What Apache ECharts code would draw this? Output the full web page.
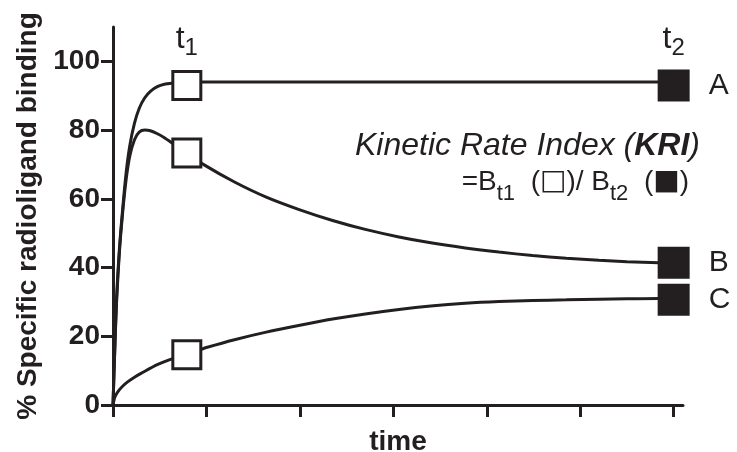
<!DOCTYPE html>
<html>
<head>
<meta charset="utf-8">
<script src="https://cdn.jsdelivr.net/npm/echarts@6/dist/echarts.min.js"></script>
<style>
  html, body { margin: 0; padding: 0; background: #fff; }
  #main { width: 737px; height: 452px; }
</style>
</head>
<body>
<div id="main"></div>
<script>
// curves: [time, % specific binding]
var curveA = [
  [0, 0], [0.02, 17], [0.04, 32], [0.07, 46], [0.1, 56], [0.14, 67.5], [0.18, 75.5],
  [0.23, 82], [0.28, 86.3], [0.34, 89.4], [0.4, 91.3], [0.48, 92.7], [0.56, 93.4],
  [0.67, 93.8], [0.79, 94], [2, 94], [4, 94], [6, 94]
];
var curveB = [
  [0, 0], [0.02, 17], [0.04, 31], [0.07, 45], [0.1, 55], [0.14, 65.5], [0.18, 72.5],
  [0.23, 77.2], [0.28, 79.4], [0.34, 80], [0.4, 79.8], [0.47, 79], [0.55, 77.8],
  [0.65, 75.9], [0.79, 73.3], [0.98, 69.8], [1.3, 64.9], [1.64, 60.5], [2.0, 56.8],
  [2.35, 53.7], [2.7, 51.1], [3.06, 48.9], [3.4, 47.2], [3.77, 45.7], [4.13, 44.5],
  [4.49, 43.5], [4.85, 42.7], [5.2, 42.1], [5.5, 41.7], [5.84, 41.4], [6, 41.3]
];
var curveC = [
  [0, 0], [0.02, 2.3], [0.053, 3.9], [0.1, 5.4], [0.16, 6.8], [0.23, 8.1], [0.3, 9.2],
  [0.48, 11.8], [0.66, 13.7], [0.84, 15.3], [1.01, 16.8], [1.3, 19.0], [1.64, 21.2],
  [2.0, 23.2], [2.35, 25.0], [2.7, 26.5], [3.06, 27.8], [3.4, 28.8], [3.77, 29.6],
  [4.13, 30.1], [4.49, 30.4], [4.85, 30.6], [5.2, 30.8], [5.5, 30.9], [5.84, 31.0], [6, 31.0]
];
var t1Points = [[0.79, 93], [0.79, 73.3], [0.79, 14.6]];
var t2Points = [[6, 93], [6, 41.4], [6, 30.6]];
var curveNames = ['A', 'B', 'C'];
var xTicks = [0, 1, 2, 3, 4, 5, 6];
var yTicks = [0, 20, 40, 60, 80, 100];

var ink = '#231f20';
var font = 'Arial, "Liberation Sans", Helvetica, sans-serif';

var myChart = echarts.init(document.getElementById('main'));

function curve(name, data) {
  return {
    name: name,
    type: 'line',
    data: data,
    showSymbol: false,
    smooth: 0.3,
    lineStyle: { color: ink, width: 3 },
    z: 2,
    silent: true
  };
}

// t with a subscript, used above the t1 / t2 columns
// (tall line + bottom aligned subscript pushes the subscript down)
var tRich = {
  t: { fontFamily: font, fontSize: 32, color: ink, lineHeight: 42 },
  s: { fontFamily: font, fontSize: 24, color: ink, lineHeight: 14, verticalAlign: 'bottom' }
};

var option = {
  backgroundColor: '#fff',
  animation: false,
  grid: { left: 113, right: 54, top: 27, bottom: 47, outerBoundsMode: 'none' },
  xAxis: {
    type: 'value',
    min: 0,
    max: 6.1,
    name: 'time',
    nameLocation: 'middle',
    nameGap: 23,
    nameTextStyle: { color: ink, fontFamily: font, fontWeight: 'bold', fontSize: 28 },
    splitLine: { show: false },
    axisLine: { lineStyle: { color: ink, width: 3 } },
    axisTick: { length: 12, lineStyle: { color: ink, width: 3 }, customValues: xTicks },
    axisLabel: { show: false }
  },
  yAxis: {
    type: 'value',
    min: 0,
    max: 110,
    name: '% Specific radioligand binding',
    nameLocation: 'middle',
    nameGap: 70,
    nameTextStyle: { color: ink, fontFamily: font, fontWeight: 'bold', fontSize: 28 },
    splitLine: { show: false },
    axisLine: { show: true, lineStyle: { color: ink, width: 3 } },
    axisTick: { show: true, length: 12, lineStyle: { color: ink, width: 3 }, customValues: yTicks },
    axisLabel: {
      customValues: yTicks,
      margin: 13,
      color: ink,
      fontFamily: font,
      fontWeight: 'bold',
      fontSize: 28
    }
  },
  series: [
    curve(curveNames[0], curveA),
    curve(curveNames[1], curveB),
    curve(curveNames[2], curveC),
    {
      name: 't1',
      type: 'scatter',
      data: t1Points,
      symbol: 'rect',
      symbolSize: 28,
      itemStyle: { color: '#fff', borderColor: ink, borderWidth: 3, opacity: 1 },
      z: 5,
      label: {
        show: true,
        position: 'top',
        distance: 10,
        formatter: function (p) { return p.dataIndex === 0 ? '{t|t}{s|1}' : ''; },
        rich: tRich
      }
    },
    {
      name: 't2',
      type: 'scatter',
      data: t2Points,
      symbol: 'rect',
      symbolSize: 32,
      itemStyle: { color: ink, opacity: 1 },
      z: 5,
      label: {
        show: true,
        position: 'right',
        distance: 19,
        color: ink,
        fontFamily: font,
        fontSize: 30,
        formatter: function (p) { return curveNames[p.dataIndex]; }
      },
      markPoint: {
        symbol: 'rect',
        symbolSize: 30,
        itemStyle: { color: 'transparent' },
        data: [{ coord: t2Points[0] }],
        label: {
          show: true,
          position: 'top',
          distance: 10,
          formatter: '{t|t}{s|2}',
          rich: tRich
        }
      }
    }
  ],
  graphic: [
    {
      type: 'text',
      right: 37,
      top: 130,
      style: {
        text: '{i|Kinetic Rate Index (}{b|KRI}{i|)}',
        rich: {
          i: { fontFamily: font, fontStyle: 'italic', fontSize: 32, fill: ink },
          b: { fontFamily: font, fontStyle: 'italic', fontWeight: 'bold', fontSize: 32, fill: ink }
        }
      }
    },
    {
      type: 'text',
      right: 48,
      top: 168,
      style: {
        text: '{m|=B}{s|t1}{m|  (}{q|\u25A1}{m|)/ B}{s|t2}{m|  (}{q|\u25A0}{m|)}',
        rich: {
          m: { fontFamily: font, fontSize: 28, fill: ink, lineHeight: 46 },
          q: { fontFamily: '"DejaVu Sans", sans-serif', fontSize: 28, fill: ink, lineHeight: 46 },
          s: { fontFamily: font, fontSize: 22, fill: ink, lineHeight: 10, verticalAlign: 'bottom' }
        }
      }
    }
  ]
};

myChart.setOption(option);
window.onresize = myChart.resize;
</script>
</body>
</html>
